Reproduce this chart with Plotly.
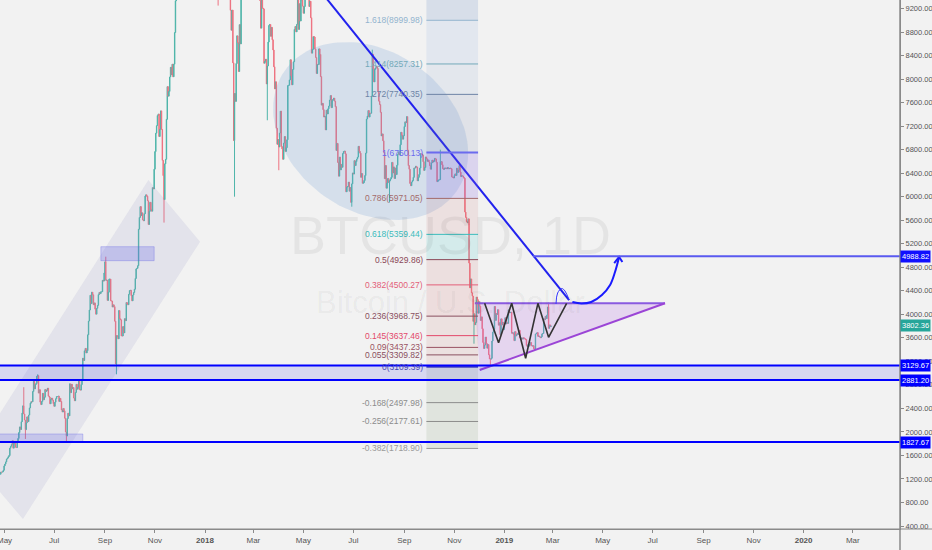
import numpy as np
import pandas as pd
import plotly.graph_objects as go

# ---------------- data: BTC/USD daily closes ----------------
FIRST_DAY = "2017-04-26"
closes_2017_04 = [1281, 1317, 1316, 1322, 1348]
closes_2017_05 = [1422, 1453, 1490, 1538, 1555, 1579, 1597, 1723, 1755, 1787,
                  1849, 1724, 1805, 1809, 1738, 1734, 1839, 1889, 1988, 2085,
                  2041, 2173, 2320, 2444, 2305, 2202, 2039, 2156, 2256, 2175, 2286]
closes_2017_06 = [2408, 2489, 2515, 2512, 2687, 2863, 2732, 2806, 2824, 2948,
                  2958, 2660, 2717, 2506, 2465, 2519, 2656, 2548, 2590, 2722,
                  2689, 2705, 2745, 2609, 2589, 2478, 2552, 2575, 2539, 2481]
closes_2017_07 = [2435, 2506, 2564, 2602, 2602, 2609, 2519, 2571, 2518, 2373,
                  2338, 2399, 2358, 2233, 1999, 1930, 2228, 2319, 2273, 2818,
                  2668, 2810, 2730, 2755, 2576, 2529, 2672, 2809, 2726, 2757, 2875]
closes_2017_08 = [2718, 2711, 2805, 2896, 3253, 3214, 3379, 3420, 3342, 3381,
                  3651, 3885, 4073, 4325, 4182, 4377, 4332, 4161, 4194, 4088,
                  4002, 4101, 4152, 4335, 4372, 4352, 4383, 4383, 4579, 4565, 4703]
closes_2017_09 = [4892, 4579, 4583, 4236, 4377, 4597, 4600, 4229, 4226, 4123,
                  4161, 4131, 3883, 3155, 3638, 3625, 3583, 4065, 3925, 3906,
                  3631, 3631, 3792, 3683, 3926, 3892, 4201, 4175, 4163, 4339]
closes_2017_10 = [4404, 4409, 4317, 4229, 4328, 4371, 4427, 4610, 4772, 4782,
                  4826, 5447, 5647, 5832, 5678, 5726, 5606, 5591, 5709, 6011,
                  6032, 6008, 5930, 5527, 5751, 5905, 5781, 5753, 6154, 6131, 6468]
closes_2017_11 = [6767, 7079, 7208, 7380, 7407, 7023, 7144, 7460, 7144, 6618,
                  6358, 5950, 6559, 6636, 7316, 7872, 7709, 7790, 8036, 8201,
                  8071, 8254, 8039, 8254, 8791, 9331, 9818, 10059, 9889, 10234]
closes_2017_12 = [10975, 11074, 11323, 11657, 11916, 14291, 17899, 16569, 15178, 15455,
                  16936, 17415, 16408, 16564, 17706, 19497, 19140, 19114, 17776, 16624,
                  15802, 13831, 14699, 13926, 14026, 16099, 15838, 14606, 14656, 12952, 14156]
closes_2018_01 = [13657, 14982, 15201, 15599, 17429, 17527, 16477, 15170, 14595, 14973,
                  13405, 13980, 14360, 13772, 13819, 11490, 11188, 11474, 11607, 12899,
                  11600, 10931, 10868, 11359, 11259, 11171, 11441, 11787, 11296, 10107, 10221]
closes_2018_02 = [9170, 8830, 9174, 8277, 6955, 7754, 7621, 8265, 8736, 8621,
                  8129, 8926, 8598, 9494, 10166, 10233, 11112, 10551, 11225, 11403,
                  10690, 10005, 10301, 9813, 9664, 10366, 10725, 10397]
closes_2018_03 = [10951, 11086, 11489, 11512, 11573, 10779, 9965, 9395, 9337, 8866,
                  9578, 9205, 9194, 8269, 8300, 8338, 7916, 8223, 8630, 8913,
                  8929, 8728, 8879, 8668, 8495, 8209, 7833, 7954, 7165, 6891, 6973]
closes_2018_04 = [6844, 7083, 7456, 6853, 6812, 6636, 6911, 7023, 6770, 6834,
                  6968, 7889, 7895, 7986, 8329, 8058, 7902, 8163, 8294, 8845,
                  8895, 8803, 8930, 9697, 8845, 9281, 8987, 9348, 9419, 9240]
closes_2018_05 = [9119, 9235, 9743, 9700, 9858, 9654, 9373, 9234, 9325, 9043,
                  8441, 8504, 8723, 8716, 8510, 8368, 8094, 8250, 8247, 8514,
                  8419, 8042, 7557, 7587, 7480, 7355, 7368, 7135, 7472, 7406, 7494]
closes_2018_06 = [7541, 7644, 7720, 7514, 7633, 7653, 7678, 7625, 7531, 6786,
                  6906, 6582, 6349, 6675, 6456, 6550, 6500, 6734, 6770, 6776,
                  6729, 6083, 6162, 6174, 6249, 6093, 6157, 5903, 6218, 6404]
closes_2018_07 = [6385, 6614, 6529, 6597, 6639, 6673, 6857, 6773, 6741, 6330,
                  6394, 6228, 6238, 6276, 6359, 6741, 7321, 7370, 7466, 7354,
                  7419, 7418, 7711, 8424, 8181, 7951, 8165, 8192, 8218, 8180, 7780]
closes_2018_08 = [7625, 7567, 7434, 7032, 7068, 6951, 6753, 6306, 6529, 6144,
                  6232, 6311, 6245, 6273, 6300, 6329, 6584, 6403, 6506, 6309,
                  6488, 6376, 6534, 6719, 6763, 6709, 6884, 7096, 7047, 6978, 7037]
closes_2018_09 = [7193, 7273, 7260, 7362, 6792, 6529, 6467, 6225, 6186, 6249,
                  6276, 6329, 6489, 6487, 6519, 6503, 6269, 6329, 6377, 6487,
                  6734, 6721, 6711, 6595, 6447, 6495, 6676, 6644, 6601, 6625]
closes_2018_10 = [6590, 6529, 6467, 6575, 6622, 6588, 6602, 6652, 6642, 6585,
                  6256, 6274, 6285, 6290, 6596, 6596, 6544, 6476, 6465, 6489,
                  6482, 6487, 6476, 6495, 6474, 6480, 6486, 6475, 6337, 6330, 6318]
closes_2018_11 = [6359, 6388, 6361, 6485, 6412, 6451, 6530, 6418, 6343, 6357,
                  6352, 6330, 6312, 5739, 5648, 5576, 5554, 5623, 4871, 4451,
                  4602, 4366, 4310, 3880, 4010, 3822, 3862, 4294, 4249, 4017]
closes_2018_12 = [4214, 4139, 3894, 3956, 3753, 3521, 3419, 3476, 3614, 3502,
                  3424, 3486, 3313, 3242, 3236, 3252, 3545, 3697, 3745, 4134,
                  3897, 4014, 3998, 4079, 3815, 3857, 3654, 3923, 3820, 3865, 3742]
closes_2019_01 = [3843, 3943, 3836, 3857, 3845, 4076, 4025, 4030, 4035, 3678,
                  3687, 3661, 3552, 3706, 3630, 3655, 3678, 3657, 3728, 3601,
                  3577, 3599, 3578, 3600, 3595, 3583, 3571, 3470, 3448, 3487, 3458]
closes_2019_02 = [3487, 3521, 3464, 3459, 3466, 3414, 3401, 3666, 3673, 3689,
                  3625, 3632, 3616, 3602, 3618, 3667, 3674, 3923, 3909, 3966,
                  3926, 3989, 4125, 3761, 3820, 3793, 3802.36]

# notable wicks (intraday extremes)
wick_lows = {"2017-05-27": 1880, "2017-07-16": 1840, "2017-09-15": 2980,
             "2017-11-12": 5560, "2018-01-17": 9250, "2018-02-06": 6000,
             "2018-03-18": 7300, "2018-04-01": 6450, "2018-06-29": 5830,
             "2018-08-14": 5900, "2018-11-25": 3500, "2018-12-15": 3130}
wick_highs = {"2017-05-25": 2760, "2017-06-11": 2980, "2017-09-02": 4980,
              "2018-07-24": 8500, "2018-10-15": 6800, "2019-02-24": 4200}

# fibonacci retracement levels
fib_ratios = [1.618, 1.414, 1.272, 1, 0.786, 0.618, 0.5, 0.382, 0.236,
              0.145, 0.09, 0.055, 0, -0.168, -0.256, -0.382]
fib_prices = [8999.98, 8257.31, 7740.35, 6750.13, 5971.05, 5359.44, 4929.86,
              4500.27, 3968.75, 3637.46, 3437.23, 3309.82, 3109.39, 2497.98,
              2177.61, 1718.90]
fib_start, fib_end = "2018-09-28", "2018-11-30"

# horizontal levels
support_levels = [3129.67, 2881.20, 1827.67]
target_level = 4988.82
target_start = "2019-02-05"
last_price = 3802.36

# drawing anchors (date, price)
trend_line = [("2018-05-01", 9859), ("2019-03-21", 4243)]
channel = [("2017-10-24", 6284), ("2017-12-26", 5235), ("2017-05-24", 519), ("2017-03-22", 1550)]
box_upper = [("2017-08-27", 4912), ("2017-10-31", 5150)]
box_lower = [("2017-03-01", 1829), ("2017-08-05", 1965)]
ell_center = ("2018-07-22", 7117)
ell_major = (104.9, -1024)   # days, USD
ell_minor = (-56.0, -1114)
triangle = [("2018-11-26", 4187), ("2019-07-16", 4187), ("2018-12-02", 3053)]
zigzag = [("2018-12-08", 4187), ("2018-12-25", 3517), ("2019-01-10", 4187),
          ("2019-01-27", 3252), ("2019-02-11", 4187), ("2019-02-24", 3609),
          ("2019-03-18", 4187)]
arrow_curve = [("2019-03-25", 4209), ("2019-04-05", 4184), ("2019-04-17", 4209),
               ("2019-04-30", 4328), ("2019-05-10", 4498), ("2019-05-16", 4719),
               ("2019-05-21", 4975)]
arrow_head = [("2019-05-15", 4872), ("2019-05-21", 4975), ("2019-05-25", 4889)]
small_arc = [("2019-03-05", 4175), ("2019-03-07", 4362), ("2019-03-12", 4439),
             ("2019-03-16", 4396), ("2019-03-21", 4243)]

month_ticks = pd.date_range("2017-05-01", "2020-03-01", freq="2MS")
month_labels = ["May", "Jul", "Sep", "Nov", "<b>2018</b>", "Mar", "May", "Jul", "Sep", "Nov",
                "<b>2019</b>", "Mar", "May", "Jul", "Sep", "Nov", "<b>2020</b>", "Mar"]
price_ticks = list(range(400, 9201, 400))

# ---------------- build ----------------
closes = [v for m in [closes_2017_04, closes_2017_05, closes_2017_06, closes_2017_07,
                      closes_2017_08, closes_2017_09, closes_2017_10, closes_2017_11,
                      closes_2017_12, closes_2018_01, closes_2018_02, closes_2018_03,
                      closes_2018_04, closes_2018_05, closes_2018_06, closes_2018_07,
                      closes_2018_08, closes_2018_09, closes_2018_10, closes_2018_11,
                      closes_2018_12, closes_2019_01, closes_2019_02] for v in m]
dates = pd.date_range(FIRST_DAY, periods=len(closes), freq="D")
opens = [closes[0]] + closes[:-1]
highs = [max(o, c) for o, c in zip(opens, closes)]
lows = [min(o, c) for o, c in zip(opens, closes)]
for d, v in wick_lows.items():
    i = (pd.Timestamp(d) - dates[0]).days
    lows[i] = min(lows[i], v)
for d, v in wick_highs.items():
    i = (pd.Timestamp(d) - dates[0]).days
    highs[i] = max(highs[i], v)

X_RANGE = [pd.Timestamp("2017-04-26"), pd.Timestamp("2020-04-27 13:00")]
Y_RANGE = [349, 9345]
FONT = "Liberation Sans, Arial, sans-serif"

fig = go.Figure()


def xs(pts):
    return [p[0] for p in pts]


def ys(pts):
    return [p[1] for p in pts]


# channel (below candles)
fig.add_trace(go.Scatter(x=xs(channel) + [channel[0][0]], y=ys(channel) + [channel[0][1]],
                         mode="lines", fill="toself", fillcolor="rgba(140,140,195,0.15)",
                         line=dict(width=0), hoverinfo="skip", showlegend=False))

fig.add_trace(go.Candlestick(
    x=dates, open=opens, high=highs, low=lows, close=closes,
    increasing=dict(line=dict(color="#4fb5aa", width=1), fillcolor="#4fb5aa"),
    decreasing=dict(line=dict(color="#ee7381", width=1), fillcolor="#ee7381"),
    showlegend=False, hoverinfo="skip"))

# ellipse
t = np.linspace(0, 2 * np.pi, 121)
ex = pd.Timestamp(ell_center[0]) + pd.to_timedelta(ell_major[0] * np.cos(t) + ell_minor[0] * np.sin(t), unit="D")
ey = ell_center[1] + ell_major[1] * np.cos(t) + ell_minor[1] * np.sin(t)
fig.add_trace(go.Scatter(x=ex, y=ey, mode="lines", fill="toself", fillcolor="rgba(102,152,212,0.2)",
                         line=dict(width=0), hoverinfo="skip", showlegend=False))

# triangle
fig.add_trace(go.Scatter(x=xs(triangle) + [triangle[0][0]], y=ys(triangle) + [triangle[0][1]],
                         mode="lines", fill="toself", fillcolor="rgba(182,102,232,0.2)",
                         line=dict(width=0), hoverinfo="skip", showlegend=False))
fig.add_trace(go.Scatter(x=xs(triangle[:2]), y=ys(triangle[:2]), mode="lines",
                         line=dict(color="#8a5ae0", width=2), hoverinfo="skip", showlegend=False))
fig.add_trace(go.Scatter(x=[triangle[2][0], triangle[1][0]], y=[triangle[2][1], triangle[1][1]], mode="lines",
                         line=dict(color="#9b45d6", width=2), hoverinfo="skip", showlegend=False))

# zigzag
fig.add_trace(go.Scatter(x=xs(zigzag), y=ys(zigzag), mode="lines",
                         line=dict(color="#333333", width=1.6), hoverinfo="skip", showlegend=False))

# trend line
fig.add_trace(go.Scatter(x=xs(trend_line), y=ys(trend_line), mode="lines",
                         line=dict(color="#2222ee", width=2), hoverinfo="skip", showlegend=False))

# arrow curve
fig.add_trace(go.Scatter(x=xs(arrow_curve), y=ys(arrow_curve), mode="lines", line_shape="spline",
                         line=dict(color="#1a1aff", width=2), hoverinfo="skip", showlegend=False))
fig.add_trace(go.Scatter(x=xs(arrow_head), y=ys(arrow_head), mode="lines",
                         line=dict(color="#1a1aff", width=2), hoverinfo="skip", showlegend=False))
fig.add_trace(go.Scatter(x=xs(small_arc), y=ys(small_arc), mode="lines", line_shape="spline",
                         line=dict(color="#3535ff", width=1), hoverinfo="skip", showlegend=False))

shapes = []
# boxes
for b, col in [(box_upper, "rgba(90,90,230,0.25)"), (box_lower, "rgba(90,90,230,0.22)")]:
    shapes.append(dict(type="rect", xref="x", yref="y", x0=b[0][0], x1=b[1][0], y0=b[0][1], y1=b[1][1],
                       fillcolor=col, line=dict(color="rgba(90,90,230,0.3)", width=1), layer="above"))

# fib bands
band_colors = ["rgba(135,169,222,0.15)", "rgba(140,168,205,0.15)", "rgba(120,135,175,0.15)",
               "rgba(132,97,227,0.2)", "rgba(200,100,100,0.12)", "rgba(97,212,212,0.2)",
               "rgba(200,100,100,0.13)", "rgba(210,100,100,0.14)", "rgba(200,110,100,0.12)",
               "rgba(200,110,100,0.12)", "rgba(200,110,100,0.12)", "rgba(200,110,100,0.12)",
               "rgba(120,150,110,0.15)", "rgba(120,150,110,0.15)", "rgba(120,150,110,0.15)"]
shapes.append(dict(type="rect", xref="x", yref="y", x0=fib_start, x1=fib_end, y0=fib_prices[0], y1=Y_RANGE[1],
                   fillcolor="rgba(112,147,202,0.2)", line=dict(width=0), layer="above"))
for i, col in enumerate(band_colors):
    shapes.append(dict(type="rect", xref="x", yref="y", x0=fib_start, x1=fib_end,
                       y0=fib_prices[i + 1], y1=fib_prices[i], fillcolor=col, line=dict(width=0), layer="above"))
fib_line_colors = ["#93b4cf", "#72a9b9", "#6d84a6", "#6b6bee", "#a46b6b", "#3cbcbc", "#8a4858",
                   "#e35f79", "#8a5060", "#e3486a", "#9a5262", "#8a5060", "#4646b4", "#8c8c8c",
                   "#8c8c8c", "#9a9a9a"]
annotations = []
for r, p, col in zip(fib_ratios, fib_prices, fib_line_colors):
    shapes.append(dict(type="line", xref="x", yref="y", x0=fib_start, x1=fib_end, y0=p, y1=p,
                       line=dict(color=col, width=2 if r in (1, 0) else 1), layer="above"))
    annotations.append(dict(x=fib_start, y=p, xref="x", yref="y", text=f"{r:g}({p:.2f})",
                            showarrow=False, xanchor="right", yanchor="middle", xshift=-1,
                            font=dict(family=FONT, size=8.5, color=col)))

# support band and lines
shapes.append(dict(type="rect", xref="paper", yref="y", x0=0, x1=1, y0=support_levels[1], y1=support_levels[0],
                   fillcolor="rgba(40,40,230,0.13)", line=dict(width=0), layer="above"))
for lv in support_levels:
    shapes.append(dict(type="line", xref="paper", yref="y", x0=0, x1=1, y0=lv, y1=lv,
                       line=dict(color="#0000ff", width=2), layer="above"))
shapes.append(dict(type="line", xref="x", yref="y", x0=target_start, x1=X_RANGE[1], y0=target_level, y1=target_level,
                   line=dict(color="#5a5af0", width=2), layer="above"))

# axis line extensions
shapes.append(dict(type="line", xref="paper", yref="paper", x0=0, x1=1.04, y0=0, y1=0,
                   line=dict(color="#8a8a8a", width=1)))
shapes.append(dict(type="line", xref="paper", yref="paper", x0=1, x1=1, y0=-0.05, y1=1,
                   line=dict(color="#8a8a8a", width=1.5)))

# first month label sits on the left edge (partly cut, as in the original)
annotations.append(dict(x=month_ticks[0], y=0, xref="x", yref="paper", text=month_labels[0], showarrow=False,
                        xanchor="center", yanchor="top", yshift=-5,
                        font=dict(family=FONT, size=8, color="#555555")))

# watermark
annotations.append(dict(x=0.5, y=0.556, xref="paper", yref="paper", text="BTCUSD, 1D", showarrow=False,
                        font=dict(family=FONT, size=54, color="rgba(0,0,0,0.055)")))
annotations.append(dict(x=0.5, y=0.429, xref="paper", yref="paper", text="Bitcoin / U.S. Dollar", showarrow=False,
                        font=dict(family=FONT, size=31, color="rgba(0,0,0,0.055)")))

# axis price labels
for lv, bg in [(target_level, "#1010ff"), (last_price, "#26a69a"), (support_levels[0], "#0000ff"),
               (support_levels[1], "#0000ff"), (support_levels[2], "#0000ff")]:
    annotations.append(dict(x=1, y=lv, xref="paper", yref="y", text=f"{lv:.2f}", showarrow=False,
                            xanchor="left", yanchor="middle", xshift=0, bgcolor=bg, borderpad=1,
                            font=dict(family=FONT, size=7.5, color="white")))

fig.update_layout(
    width=932, height=550, margin=dict(l=0, r=32, t=0, b=21),
    paper_bgcolor="#f2f2f2", plot_bgcolor="#f2f2f2",
    showlegend=False, shapes=shapes, annotations=annotations,
    xaxis=dict(range=X_RANGE, type="date", rangeslider=dict(visible=False), showgrid=False, zeroline=False,
               tickmode="array", tickvals=month_ticks, ticktext=month_labels,
               ticks="outside", ticklen=3, tickcolor="#8a8a8a", showline=True, linecolor="#8a8a8a",
               tickfont=dict(family=FONT, size=8, color="#555555"), automargin=False),
    yaxis=dict(range=Y_RANGE, side="right", showgrid=False, zeroline=False,
               tickmode="array", tickvals=price_ticks, ticktext=[f"{v:.2f}" for v in price_ticks],
               ticks="outside", ticklen=3, tickcolor="#8a8a8a", showline=True, linecolor="#8a8a8a",
               tickfont=dict(family=FONT, size=7.5, color="#555555"), automargin=False),
)

fig.write_html("out.html", config={"displayModeBar": False},
               post_script="document.body.style.margin='0';document.body.style.background='#f2f2f2';")
